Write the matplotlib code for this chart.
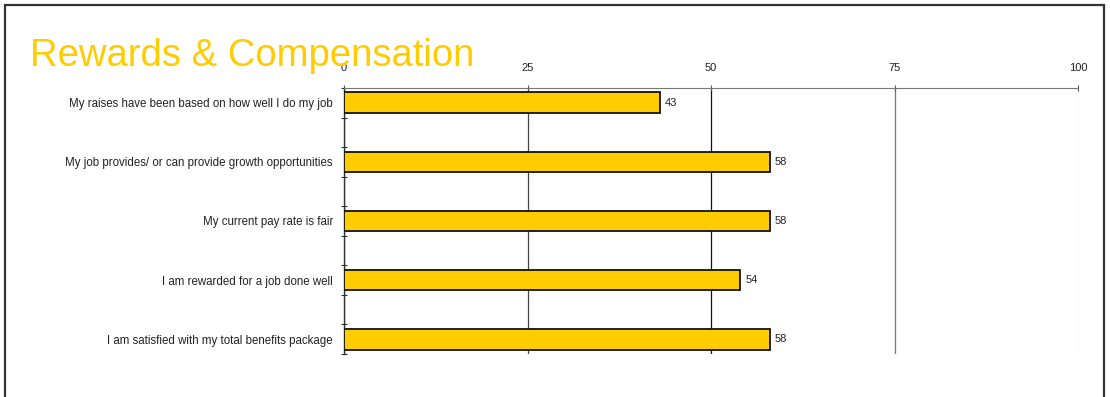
import matplotlib
matplotlib.use("Agg")
import matplotlib.pyplot as plt
from matplotlib.patches import Rectangle

# survey items, top to bottom
items = [
    "My raises have been based on how well I do my job",
    "My job provides/ or can provide growth opportunities",
    "My current pay rate is fair",
    "I am rewarded for a job done well",
    "I am satisfied with my total benefits package",
]
scores = [43, 58, 58, 54, 58]
x_ticks = [0, 25, 50, 75, 100]

plt.rcParams["font.family"] = ["Liberation Sans", "DejaVu Sans"]

fig = plt.figure(figsize=(11.1, 3.97), dpi=100)

# frame round the slide (open at the bottom)
fig.patches.append(Rectangle((5 / 1110, -0.05), 1099 / 1110, 1.05 - 5 / 397,
                             transform=fig.transFigure, fill=False,
                             edgecolor="#333333", linewidth=1.6))

fig.text(30 / 1110, 1 - 66 / 397, "Rewards & Compensation", color="#FFCC00",
         fontsize=27.5, ha="left", va="baseline")

ax = fig.add_axes([344 / 1110, 1 - 354 / 397, 734 / 1110, 266 / 397])

ypos = list(range(len(items)))
bars = ax.barh(ypos, scores, height=0.35, color="#FFCC00",
               edgecolor="#111111", linewidth=1.3, zorder=3)
for b, v in zip(bars, scores):
    ax.text(b.get_width() + 0.7, b.get_y() + b.get_height() / 2, str(v),
            va="center", ha="left", fontsize=8, color="#222222")

ax.set_xlim(0, 100)
ax.set_ylim(4.25, -0.25)
ax.xaxis.tick_top()
ax.set_xticks(x_ticks)
ax.tick_params(axis="x", direction="inout", length=4, width=0.8,
               color="#555555", labelsize=8, labelcolor="#222222", pad=9)

ax.set_yticks(ypos)
ax.set_yticklabels(items, fontsize=8.3, color="#222222")
ax.set_yticks([-0.25 + 0.5 * k for k in range(10)], minor=True)
ax.tick_params(axis="y", which="major", length=0, pad=8)
ax.tick_params(axis="y", which="minor", direction="inout", length=4,
               width=0.8, color="#333333")

ax.grid(axis="x", linewidth=0.9, zorder=0)
for line, c in zip(ax.get_xgridlines(), ["#333333", "#444444", "#111111",
                                          "#777777", "#dddddd"]):
    line.set_color(c)
for side in ("right", "bottom"):
    ax.spines[side].set_visible(False)
ax.spines["top"].set_color("#777777")
ax.spines["left"].set_color("#333333")
ax.spines["left"].set_linewidth(1.0)

fig.savefig("out.png", dpi=100)
